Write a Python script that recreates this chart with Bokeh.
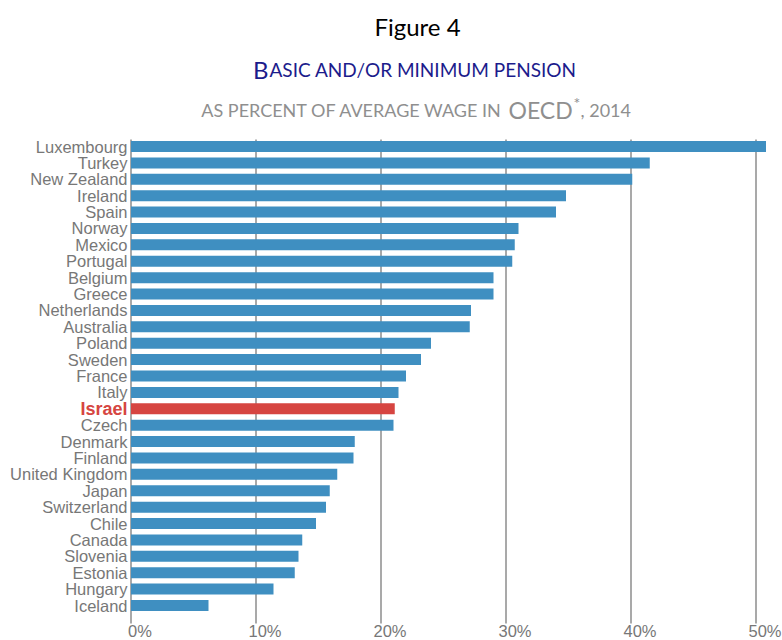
from bokeh.plotting import figure
from bokeh.models import Range1d, ColumnDataSource
from bokeh.embed import file_html
from bokeh.resources import INLINE
from bokeh.core.properties import value

# ---- data ----
countries = ["Luxembourg", "Turkey", "New Zealand", "Ireland", "Spain", "Norway",
             "Mexico", "Portugal", "Belgium", "Greece", "Netherlands", "Australia",
             "Poland", "Sweden", "France", "Italy", "Israel", "Czech", "Denmark",
             "Finland", "United Kingdom", "Japan", "Switzerland", "Chile", "Canada",
             "Slovenia", "Estonia", "Hungary", "Iceland"]
values = [50.8, 41.5, 40.1, 34.8, 34.0, 31.0, 30.7, 30.5, 29.0, 29.0, 27.2, 27.1,
          24.0, 23.2, 22.0, 21.4, 21.1, 21.0, 17.9, 17.8, 16.5, 15.9, 15.6, 14.8,
          13.7, 13.4, 13.1, 11.4, 6.2]
x_ticks = [0, 10, 20, 30, 40, 50]
x_tick_labels = ["0%", "10%", "20%", "30%", "40%", "50%"]
highlight = "Israel"

title_line1 = "Figure 4"
title_line2_cap = "B"
title_line2_rest = "ASIC AND/OR MINIMUM PENSION"
title_line3_a = "AS PERCENT OF AVERAGE WAGE IN"
title_line3_b = "OECD"
title_line3_c = "*"
title_line3_d = ", 2014"

# ---- styling ----
BLUE = "#3f8fc1"
RED = "#d64541"
GRAY = "#777777"
GRID = "#8c8c8c"
NAVY = "#1c1c8c"
SUBGRAY = "#8f8f8f"
TFONT = "Lato"
LFONT = "Liberation Sans"

W, H = 782, 640
X0_PX = 130.5       # canvas x of 0 %
PX_PER_PCT = 12.5
TOP_ROW_PX = 146.0  # canvas y of first bar centre
BOT_ROW_PX = 605.0  # canvas y of last bar centre
BASE_FIX = 6        # svg alphabetic-baseline correction (px)

n = len(countries)
ypos = [n - 1 - i for i in range(n)]
ROW_PX = (BOT_ROW_PX - TOP_ROW_PX) / (n - 1)


def px2x(cx):
    return (cx - X0_PX) / PX_PER_PCT


def px2y(cy):
    return (BOT_ROW_PX - cy) / ROW_PX


p = figure(width=W, height=H,
           min_border_left=0, min_border_right=0, min_border_top=0, min_border_bottom=0,
           x_range=Range1d(px2x(0), px2x(W)),
           y_range=Range1d(px2y(H), px2y(0)),
           x_axis_location=None, y_axis_location=None,
           output_backend="svg", toolbar_location=None, tools="")
p.outline_line_color = None
p.background_fill_color = "white"
p.border_fill_color = "white"
p.xgrid.visible = False
p.ygrid.visible = False

# vertical grid lines at the tick values
gy0, gy1 = px2y(623), px2y(139)
p.segment(x0=x_ticks, x1=x_ticks, y0=[gy0] * len(x_ticks), y1=[gy1] * len(x_ticks),
          line_color=GRID, line_width=1.5)

# bars
colors = [RED if c == highlight else BLUE for c in countries]
src = ColumnDataSource(dict(y=ypos, v=values, c=colors, name=countries))
p.hbar(y="y", right="v", left=0, height=0.67, fill_color="c", line_color=None, source=src)

# category labels
lab_x = px2x(127)
norm_names = [c for c in countries if c != highlight]
norm_y = [y for y, c in zip(ypos, countries) if c != highlight]
p.text(x=[lab_x] * len(norm_names), y=norm_y, text=norm_names,
       text_align="right", text_baseline="middle",
       text_font=value(LFONT), text_font_size="16.5px", text_color=GRAY)
hy = ypos[countries.index(highlight)]
p.text(x=[lab_x], y=[hy], text=[highlight],
       text_align="right", text_baseline="middle",
       text_font=value(LFONT), text_font_size="18px", text_font_style="bold",
       text_color=RED)

# x tick labels
p.text(x=x_ticks, y=[px2y(630)] * len(x_ticks), text=x_tick_labels,
       x_offset=9, text_align="center", text_baseline="middle",
       text_font=value(LFONT), text_font_size="16.5px", text_color=GRAY)


def title_text(txt, cx, cy, size, color, align="left"):
    p.text(x=[px2x(cx)], y=[px2y(cy - BASE_FIX)], text=[txt], text_align=align,
           text_baseline="alphabetic", text_font=value(TFONT),
           text_font_size=size, text_color=color)


title_text(title_line1, 417, 32, "24px", "black", "center")

junction2 = 268
title_text(title_line2_cap, junction2, 75, "24px", NAVY, "right")
title_text(title_line2_rest, junction2 + 1, 75, "19px", NAVY, "left")

oecd_left = 508
title_text(title_line3_a, oecd_left - 6, 115, "18px", SUBGRAY, "right")
title_text(title_line3_b, oecd_left, 115, "23px", SUBGRAY, "left")
title_text(title_line3_c, oecd_left + 65, 108, "16px", SUBGRAY, "left")
title_text(title_line3_d, oecd_left + 72, 115, "18px", SUBGRAY, "left")

open("out.html", "w").write(file_html(p, INLINE))
